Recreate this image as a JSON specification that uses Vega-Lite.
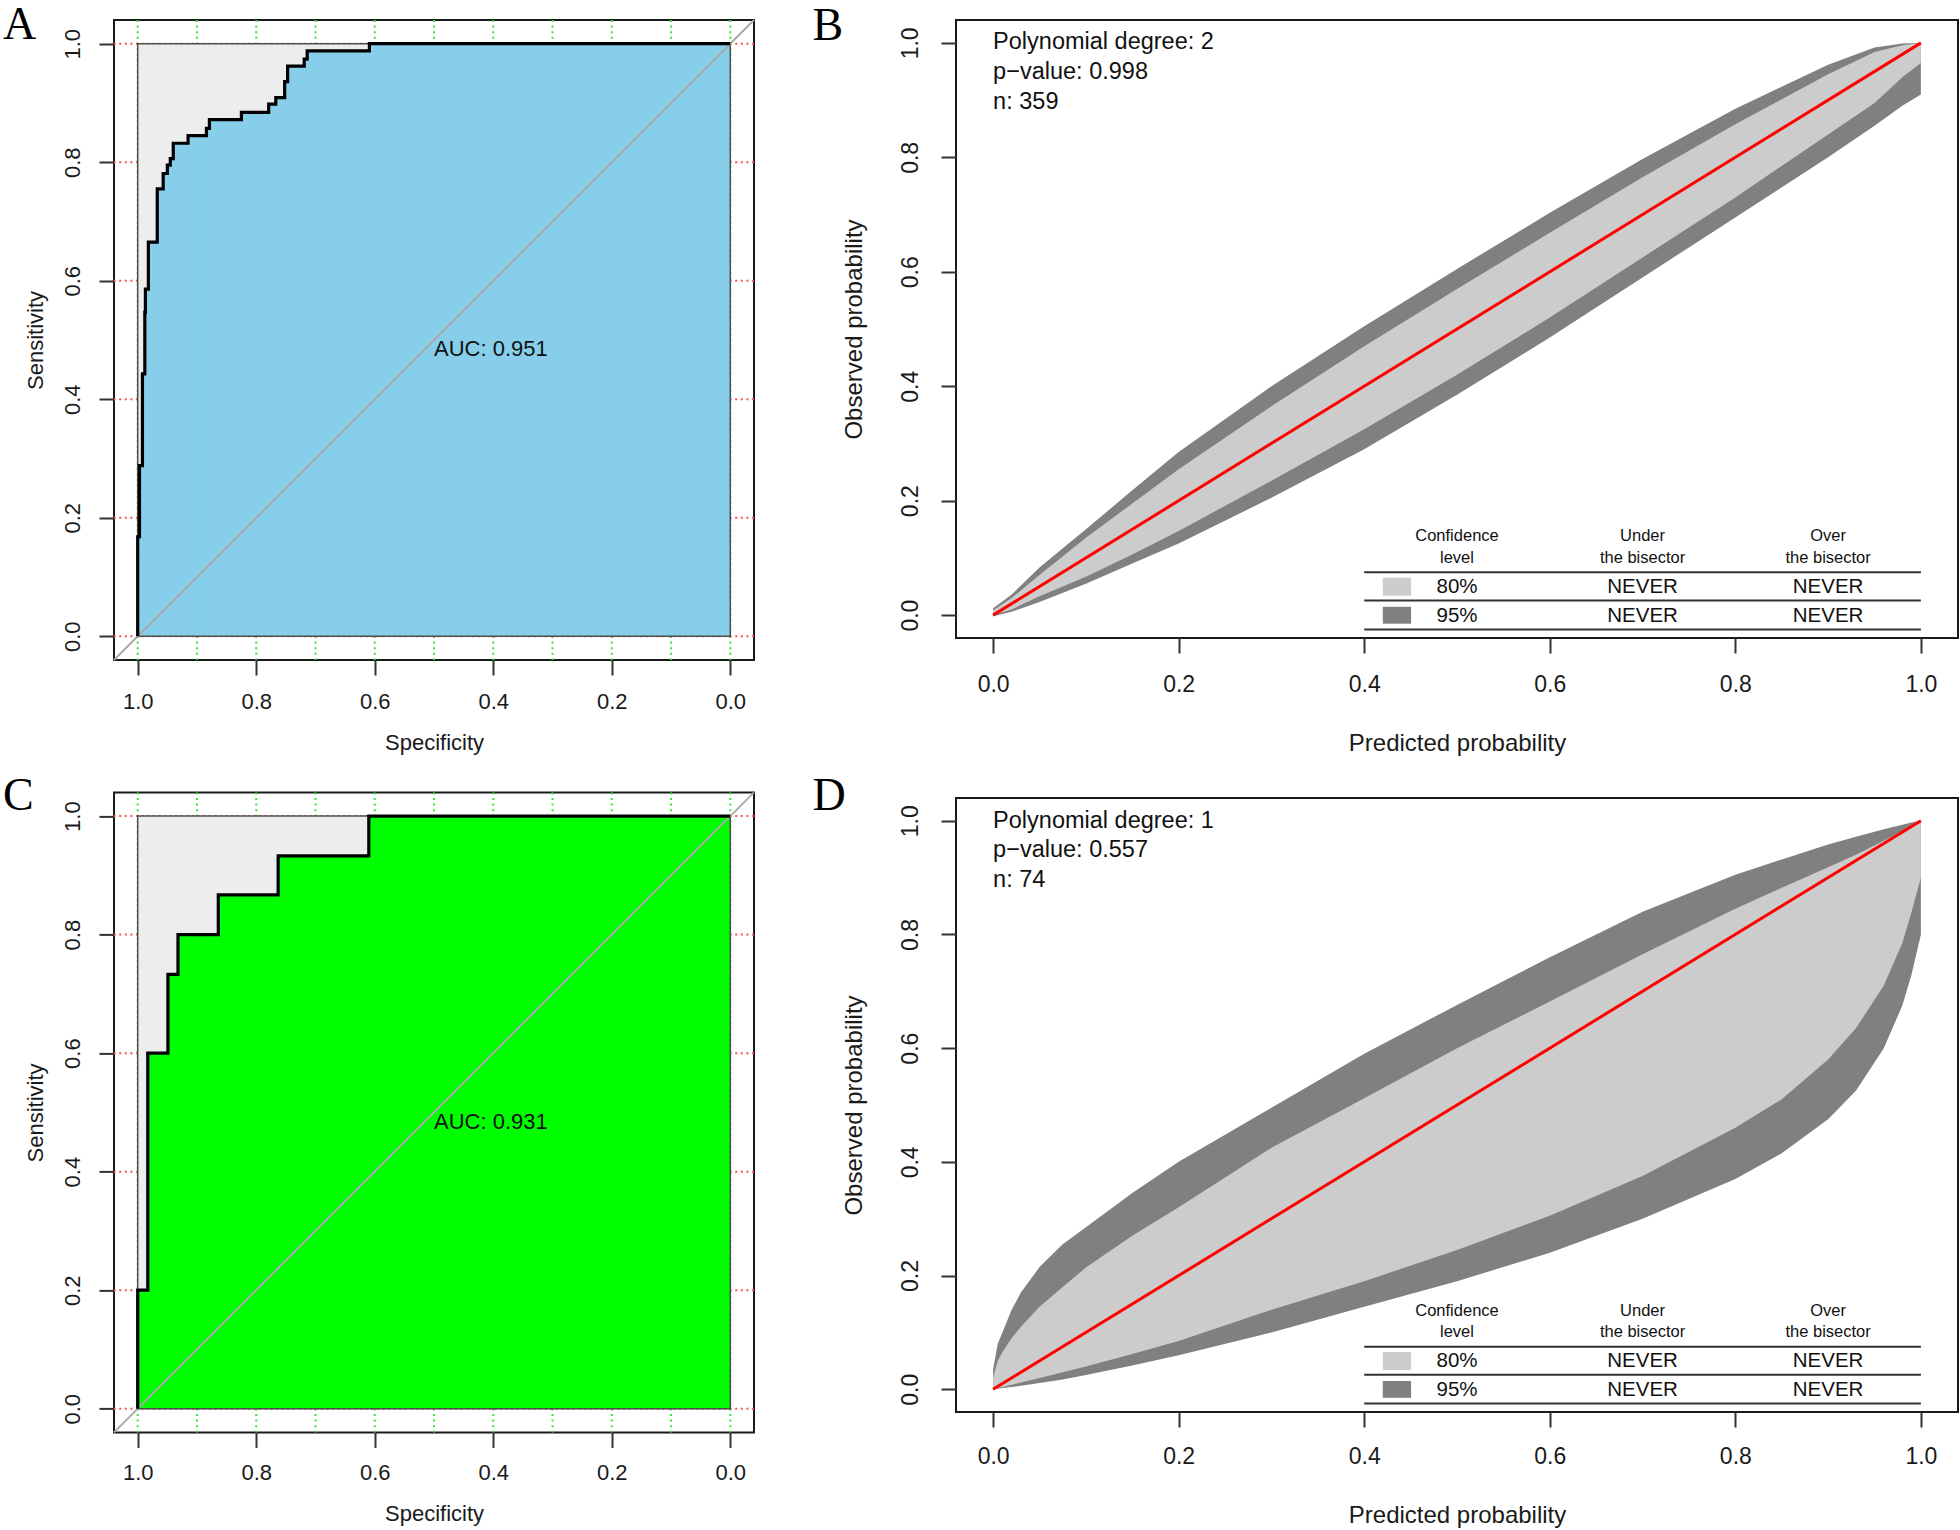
{
"$schema": "https://vega.github.io/schema/vega-lite/v6.json",
"background": "white",
"padding": {"left": 2, "top": 0, "right": 0, "bottom": 0},
"autosize": {"type": "pad"},
"bounds": "full",
"spacing": 55,
"config": {
  "font": "Liberation Sans",
  "view": {"stroke": "#1a1a1a", "strokeWidth": 2},
  "axis": {"grid": false, "domain": false, "tickColor": "#333333", "tickWidth": 2, "tickSize": 15, "labelColor": "#1a1a1a", "titleColor": "#1a1a1a", "titleFontWeight": "normal", "labelFlush": false, "labelOverlap": false, "labelBound": false}
},
"datasets": {
  "gridX": [{"x":0},{"x":0.1},{"x":0.2},{"x":0.3},{"x":0.4},{"x":0.5},{"x":0.6},{"x":0.7},{"x":0.8},{"x":0.9},{"x":1}],
  "gridY": [{"y":0},{"y":0.2},{"y":0.4},{"y":0.6},{"y":0.8},{"y":1}],
  "rocA": [
    {"i":1,"x":1.0,"y":0},{"i":2,"x":1.0,"y":0.168},{"i":3,"x":0.997,"y":0.168},{"i":4,"x":0.997,"y":0.288},
    {"i":5,"x":0.992,"y":0.288},{"i":6,"x":0.992,"y":0.443},{"i":7,"x":0.988,"y":0.443},{"i":8,"x":0.988,"y":0.547},
    {"i":9,"x":0.987,"y":0.547},{"i":10,"x":0.987,"y":0.586},{"i":11,"x":0.982,"y":0.586},{"i":12,"x":0.982,"y":0.665},
    {"i":13,"x":0.967,"y":0.665},{"i":14,"x":0.967,"y":0.755},{"i":15,"x":0.957,"y":0.755},{"i":16,"x":0.957,"y":0.781},
    {"i":17,"x":0.950,"y":0.781},{"i":18,"x":0.950,"y":0.795},{"i":19,"x":0.945,"y":0.795},{"i":20,"x":0.945,"y":0.806},
    {"i":21,"x":0.940,"y":0.806},{"i":22,"x":0.940,"y":0.832},{"i":23,"x":0.915,"y":0.832},{"i":24,"x":0.915,"y":0.845},
    {"i":25,"x":0.884,"y":0.845},{"i":26,"x":0.884,"y":0.857},{"i":27,"x":0.879,"y":0.857},{"i":28,"x":0.879,"y":0.872},
    {"i":29,"x":0.825,"y":0.872},{"i":30,"x":0.825,"y":0.884},{"i":31,"x":0.779,"y":0.884},{"i":32,"x":0.779,"y":0.898},
    {"i":33,"x":0.767,"y":0.898},{"i":34,"x":0.767,"y":0.909},{"i":35,"x":0.752,"y":0.909},{"i":36,"x":0.752,"y":0.936},
    {"i":37,"x":0.747,"y":0.936},{"i":38,"x":0.747,"y":0.962},{"i":39,"x":0.719,"y":0.962},{"i":40,"x":0.719,"y":0.974},
    {"i":41,"x":0.714,"y":0.974},{"i":42,"x":0.714,"y":0.988},{"i":43,"x":0.609,"y":0.988},{"i":44,"x":0.609,"y":1.0},
    {"i":45,"x":0.0,"y":1.0}
  ],
  "rocAseg": [
    {"x":1.0,"x2":0.997,"y":0.168},{"x":0.997,"x2":0.992,"y":0.288},{"x":0.992,"x2":0.988,"y":0.443},
    {"x":0.988,"x2":0.987,"y":0.547},{"x":0.987,"x2":0.982,"y":0.586},{"x":0.982,"x2":0.967,"y":0.665},
    {"x":0.967,"x2":0.957,"y":0.755},{"x":0.957,"x2":0.950,"y":0.781},{"x":0.950,"x2":0.945,"y":0.795},
    {"x":0.945,"x2":0.940,"y":0.806},{"x":0.940,"x2":0.915,"y":0.832},{"x":0.915,"x2":0.884,"y":0.845},
    {"x":0.884,"x2":0.879,"y":0.857},{"x":0.879,"x2":0.825,"y":0.872},{"x":0.825,"x2":0.779,"y":0.884},
    {"x":0.779,"x2":0.767,"y":0.898},{"x":0.767,"x2":0.752,"y":0.909},{"x":0.752,"x2":0.747,"y":0.936},
    {"x":0.747,"x2":0.719,"y":0.962},{"x":0.719,"x2":0.714,"y":0.974},{"x":0.714,"x2":0.609,"y":0.988},
    {"x":0.609,"x2":0.0,"y":1.0}
  ],
  "rocC": [
    {"i":1,"x":1.0,"y":0},{"i":2,"x":1.0,"y":0.2},{"i":3,"x":0.983,"y":0.2},{"i":4,"x":0.983,"y":0.6},
    {"i":5,"x":0.949,"y":0.6},{"i":6,"x":0.949,"y":0.733},{"i":7,"x":0.932,"y":0.733},{"i":8,"x":0.932,"y":0.8},
    {"i":9,"x":0.864,"y":0.8},{"i":10,"x":0.864,"y":0.867},{"i":11,"x":0.763,"y":0.867},{"i":12,"x":0.763,"y":0.933},
    {"i":13,"x":0.610,"y":0.933},{"i":14,"x":0.610,"y":1.0},{"i":15,"x":0.0,"y":1.0}
  ],
  "rocCseg": [
    {"x":1.0,"x2":0.983,"y":0.2},{"x":0.983,"x2":0.949,"y":0.6},{"x":0.949,"x2":0.932,"y":0.733},
    {"x":0.932,"x2":0.864,"y":0.8},{"x":0.864,"x2":0.763,"y":0.867},{"x":0.763,"x2":0.610,"y":0.933},
    {"x":0.610,"x2":0.0,"y":1.0}
  ],
  "calB": [
    {"x":0,"lo95":-0.002,"lo80":0.0,"hi80":0.008,"hi95":0.012},
    {"x":0.02,"lo95":0.006,"lo80":0.010,"hi80":0.030,"hi95":0.036},
    {"x":0.05,"lo95":0.023,"lo80":0.033,"hi80":0.070,"hi95":0.083},
    {"x":0.1,"lo95":0.055,"lo80":0.067,"hi80":0.135,"hi95":0.150},
    {"x":0.15,"lo95":0.090,"lo80":0.106,"hi80":0.195,"hi95":0.218},
    {"x":0.2,"lo95":0.125,"lo80":0.147,"hi80":0.255,"hi95":0.285},
    {"x":0.3,"lo95":0.205,"lo80":0.235,"hi80":0.365,"hi95":0.400},
    {"x":0.4,"lo95":0.290,"lo80":0.325,"hi80":0.470,"hi95":0.505},
    {"x":0.5,"lo95":0.385,"lo80":0.420,"hi80":0.570,"hi95":0.605},
    {"x":0.6,"lo95":0.485,"lo80":0.520,"hi80":0.668,"hi95":0.703},
    {"x":0.7,"lo95":0.590,"lo80":0.625,"hi80":0.765,"hi95":0.797},
    {"x":0.8,"lo95":0.695,"lo80":0.730,"hi80":0.858,"hi95":0.885},
    {"x":0.9,"lo95":0.800,"lo80":0.840,"hi80":0.945,"hi95":0.962},
    {"x":0.95,"lo95":0.855,"lo80":0.895,"hi80":0.984,"hi95":0.992},
    {"x":0.98,"lo95":0.890,"lo80":0.940,"hi80":0.996,"hi95":0.999},
    {"x":1.0,"lo95":0.910,"lo80":0.965,"hi80":1.0,"hi95":1.0}
  ],
  "calD": [
    {"x":0,"lo95":0,"lo80":0,"hi80":0.02,"hi95":0.035},
    {"x":0.005,"lo95":0.001,"lo80":0.002,"hi80":0.05,"hi95":0.08},
    {"x":0.01,"lo95":0.002,"lo80":0.004,"hi80":0.065,"hi95":0.10},
    {"x":0.02,"lo95":0.004,"lo80":0.008,"hi80":0.09,"hi95":0.14},
    {"x":0.03,"lo95":0.006,"lo80":0.012,"hi80":0.11,"hi95":0.17},
    {"x":0.05,"lo95":0.011,"lo80":0.02,"hi80":0.145,"hi95":0.215},
    {"x":0.075,"lo95":0.017,"lo80":0.03,"hi80":0.18,"hi95":0.255},
    {"x":0.1,"lo95":0.025,"lo80":0.04,"hi80":0.214,"hi95":0.285},
    {"x":0.15,"lo95":0.042,"lo80":0.062,"hi80":0.27,"hi95":0.345},
    {"x":0.2,"lo95":0.06,"lo80":0.085,"hi80":0.32,"hi95":0.40},
    {"x":0.3,"lo95":0.10,"lo80":0.14,"hi80":0.425,"hi95":0.495},
    {"x":0.4,"lo95":0.145,"lo80":0.19,"hi80":0.512,"hi95":0.59},
    {"x":0.5,"lo95":0.19,"lo80":0.245,"hi80":0.60,"hi95":0.676},
    {"x":0.6,"lo95":0.24,"lo80":0.305,"hi80":0.682,"hi95":0.76},
    {"x":0.7,"lo95":0.30,"lo80":0.375,"hi80":0.765,"hi95":0.84},
    {"x":0.8,"lo95":0.37,"lo80":0.46,"hi80":0.845,"hi95":0.905},
    {"x":0.85,"lo95":0.415,"lo80":0.51,"hi80":0.882,"hi95":0.932},
    {"x":0.9,"lo95":0.475,"lo80":0.58,"hi80":0.918,"hi95":0.958},
    {"x":0.93,"lo95":0.525,"lo80":0.635,"hi80":0.94,"hi95":0.972},
    {"x":0.96,"lo95":0.60,"lo80":0.71,"hi80":0.965,"hi95":0.985},
    {"x":0.98,"lo95":0.675,"lo80":0.785,"hi80":0.982,"hi95":0.993},
    {"x":0.99,"lo95":0.73,"lo80":0.84,"hi80":0.991,"hi95":0.997},
    {"x":1.0,"lo95":0.80,"lo80":0.90,"hi80":1.0,"hi95":1.0}
  ],
  "tabHead": [
    {"x":0.5,"y":0.1374,"t":"Confidence"},{"x":0.5,"y":0.1,"t":"level"},
    {"x":0.7,"y":0.1374,"t":"Under"},{"x":0.7,"y":0.1,"t":"the bisector"},
    {"x":0.9,"y":0.1374,"t":"Over"},{"x":0.9,"y":0.1,"t":"the bisector"}
  ],
  "tabText": [
    {"x":0.5,"y":0.049,"t":"80%"},{"x":0.7,"y":0.049,"t":"NEVER"},{"x":0.9,"y":0.049,"t":"NEVER"},
    {"x":0.5,"y":-0.0015,"t":"95%"},{"x":0.7,"y":-0.0015,"t":"NEVER"},{"x":0.9,"y":-0.0015,"t":"NEVER"}
  ],
  "tabRule": [
    {"x":0.4,"x2":1.0,"y":0.0747},{"x":0.4,"x2":1.0,"y":0.0257},{"x":0.4,"x2":1.0,"y":-0.0252}
  ],
  "tabSwatch": [
    {"x":0.42,"x2":0.4505,"y":0.034,"y2":0.0654,"lvl":"80%"},
    {"x":0.42,"x2":0.4505,"y":-0.015,"y2":0.0145,"lvl":"95%"}
  ]
},
"hconcat": [
 {"vconcat": [
  {"width": 640, "height": 640,
   "title": {"text": "A", "anchor": "start", "frame": "group", "orient": "top", "baseline": "alphabetic", "offset": -65.9, "dx": -111, "font": "Liberation Serif", "fontSize": 46, "fontWeight": "normal", "color": "#000000"},
   "layer": [
    {"data": {"name": "gridX"}, "mark": {"type": "rule", "color": "#33E633", "strokeWidth": 2, "strokeDash": [2, 3.6]},
     "encoding": {"x": {"field": "x", "type": "quantitative", "scale": {"domain": [-0.04, 1.04], "reverse": true, "nice": false, "zero": false},
       "axis": {"title": "Specificity", "values": [0,0.2,0.4,0.6,0.8,1], "format": ".1f", "labelFontSize": 22, "labelPadding": 26, "labelBaseline": "middle", "labelAlign": "center", "labelAngle": 0, "titleFontSize": 22, "titleX": 320, "titleY": 82, "titleAlign": "center", "titleBaseline": "middle", "titleAngle": 0}}}},
    {"data": {"name": "gridY"}, "mark": {"type": "rule", "color": "#FF5050", "strokeWidth": 2, "strokeDash": [2, 3.6]},
     "encoding": {"y": {"field": "y", "type": "quantitative", "scale": {"domain": [-0.04, 1.04], "nice": false, "zero": false},
       "axis": {"title": "Sensitivity", "values": [0,0.2,0.4,0.6,0.8,1], "format": ".1f", "labelFontSize": 22, "labelAngle": 270, "labelAlign": "center", "labelBaseline": "middle", "labelPadding": 27, "titleFontSize": 22, "titleX": -79, "titleY": 320, "titleAngle": 270, "titleAlign": "center", "titleBaseline": "middle"}}}},
    {"data": {"values": [{}]}, "mark": {"type": "rect", "color": "#EDEDED"},
     "encoding": {"x": {"datum": 1, "scale": {"domain": [-0.04, 1.04], "reverse": true, "nice": false, "zero": false}}, "x2": {"datum": 0},
       "y": {"datum": 0, "scale": {"domain": [-0.04, 1.04], "nice": false, "zero": false}}, "y2": {"datum": 1}}},
    {"data": {"name": "rocAseg"}, "mark": {"type": "rect", "color": "#87CEEB", "stroke": "#87CEEB", "strokeWidth": 0.8},
     "encoding": {"x": {"field": "x", "type": "quantitative", "scale": {"domain": [-0.04, 1.04], "reverse": true, "nice": false, "zero": false}}, "x2": {"field": "x2"},
       "y": {"field": "y", "type": "quantitative", "scale": {"domain": [-0.04, 1.04], "nice": false, "zero": false}}, "y2": {"datum": 0}}},
    {"data": {"values": [{}]}, "mark": {"type": "rect", "filled": false, "color": "#4d4d4d", "strokeWidth": 1.5},
     "encoding": {"x": {"datum": 1, "scale": {"domain": [-0.04, 1.04], "reverse": true, "nice": false, "zero": false}}, "x2": {"datum": 0},
       "y": {"datum": 0, "scale": {"domain": [-0.04, 1.04], "nice": false, "zero": false}}, "y2": {"datum": 1}}},
    {"data": {"values": [{}]}, "mark": {"type": "rule", "color": "#AAAAAA", "strokeWidth": 2},
     "encoding": {"x": {"datum": 1.04, "scale": {"domain": [-0.04, 1.04], "reverse": true, "nice": false, "zero": false}}, "x2": {"datum": -0.04},
       "y": {"datum": -0.04, "scale": {"domain": [-0.04, 1.04], "nice": false, "zero": false}}, "y2": {"datum": 1.04}}},
    {"data": {"name": "rocA"}, "mark": {"type": "line", "color": "#000000", "strokeWidth": 3.2},
     "encoding": {"x": {"field": "x", "type": "quantitative", "scale": {"domain": [-0.04, 1.04], "reverse": true, "nice": false, "zero": false}},
       "y": {"field": "y", "type": "quantitative", "scale": {"domain": [-0.04, 1.04], "nice": false, "zero": false}}, "order": {"field": "i", "type": "quantitative"}}},
    {"data": {"values": [{}]}, "mark": {"type": "text", "align": "left", "baseline": "middle", "fontSize": 22, "color": "#111111"},
     "encoding": {"x": {"datum": 0.5, "scale": {"domain": [-0.04, 1.04], "reverse": true, "nice": false, "zero": false}},
       "y": {"datum": 0.484, "scale": {"domain": [-0.04, 1.04], "nice": false, "zero": false}}, "text": {"value": "AUC: 0.951"}}}
   ]},
  {"width": 640, "height": 640,
   "title": {"text": "C", "anchor": "start", "frame": "group", "orient": "top", "baseline": "alphabetic", "offset": -64.5, "dx": -111, "font": "Liberation Serif", "fontSize": 46, "fontWeight": "normal", "color": "#000000"},
   "layer": [
    {"data": {"name": "gridX"}, "mark": {"type": "rule", "color": "#33E633", "strokeWidth": 2, "strokeDash": [2, 3.6]},
     "encoding": {"x": {"field": "x", "type": "quantitative", "scale": {"domain": [-0.04, 1.04], "reverse": true, "nice": false, "zero": false},
       "axis": {"title": "Specificity", "values": [0,0.2,0.4,0.6,0.8,1], "format": ".1f", "labelFontSize": 22, "labelPadding": 25, "labelBaseline": "middle", "labelAlign": "center", "labelAngle": 0, "titleFontSize": 22, "titleX": 320, "titleY": 81, "titleAlign": "center", "titleBaseline": "middle", "titleAngle": 0}}}},
    {"data": {"name": "gridY"}, "mark": {"type": "rule", "color": "#FF5050", "strokeWidth": 2, "strokeDash": [2, 3.6]},
     "encoding": {"y": {"field": "y", "type": "quantitative", "scale": {"domain": [-0.04, 1.04], "nice": false, "zero": false},
       "axis": {"title": "Sensitivity", "values": [0,0.2,0.4,0.6,0.8,1], "format": ".1f", "labelFontSize": 22, "labelAngle": 270, "labelAlign": "center", "labelBaseline": "middle", "labelPadding": 27, "titleFontSize": 22, "titleX": -79, "titleY": 320, "titleAngle": 270, "titleAlign": "center", "titleBaseline": "middle"}}}},
    {"data": {"values": [{}]}, "mark": {"type": "rect", "color": "#EDEDED"},
     "encoding": {"x": {"datum": 1, "scale": {"domain": [-0.04, 1.04], "reverse": true, "nice": false, "zero": false}}, "x2": {"datum": 0},
       "y": {"datum": 0, "scale": {"domain": [-0.04, 1.04], "nice": false, "zero": false}}, "y2": {"datum": 1}}},
    {"data": {"name": "rocCseg"}, "mark": {"type": "rect", "color": "#00FF00", "stroke": "#00FF00", "strokeWidth": 0.8},
     "encoding": {"x": {"field": "x", "type": "quantitative", "scale": {"domain": [-0.04, 1.04], "reverse": true, "nice": false, "zero": false}}, "x2": {"field": "x2"},
       "y": {"field": "y", "type": "quantitative", "scale": {"domain": [-0.04, 1.04], "nice": false, "zero": false}}, "y2": {"datum": 0}}},
    {"data": {"values": [{}]}, "mark": {"type": "rect", "filled": false, "color": "#4d4d4d", "strokeWidth": 1.5},
     "encoding": {"x": {"datum": 1, "scale": {"domain": [-0.04, 1.04], "reverse": true, "nice": false, "zero": false}}, "x2": {"datum": 0},
       "y": {"datum": 0, "scale": {"domain": [-0.04, 1.04], "nice": false, "zero": false}}, "y2": {"datum": 1}}},
    {"data": {"values": [{}]}, "mark": {"type": "rule", "color": "#AAAAAA", "strokeWidth": 2},
     "encoding": {"x": {"datum": 1.04, "scale": {"domain": [-0.04, 1.04], "reverse": true, "nice": false, "zero": false}}, "x2": {"datum": -0.04},
       "y": {"datum": -0.04, "scale": {"domain": [-0.04, 1.04], "nice": false, "zero": false}}, "y2": {"datum": 1.04}}},
    {"data": {"name": "rocC"}, "mark": {"type": "line", "color": "#000000", "strokeWidth": 3.2},
     "encoding": {"x": {"field": "x", "type": "quantitative", "scale": {"domain": [-0.04, 1.04], "reverse": true, "nice": false, "zero": false}},
       "y": {"field": "y", "type": "quantitative", "scale": {"domain": [-0.04, 1.04], "nice": false, "zero": false}}, "order": {"field": "i", "type": "quantitative"}}},
    {"data": {"values": [{}]}, "mark": {"type": "text", "align": "left", "baseline": "middle", "fontSize": 22, "color": "#111111"},
     "encoding": {"x": {"datum": 0.5, "scale": {"domain": [-0.04, 1.04], "reverse": true, "nice": false, "zero": false}},
       "y": {"datum": 0.484, "scale": {"domain": [-0.04, 1.04], "nice": false, "zero": false}}, "text": {"value": "AUC: 0.931"}}}
   ]}
 ], "spacing": 132.4, "bounds": "flush"},
 {"vconcat": [
  {"width": 1002, "height": 618,
   "title": {"text": "B", "anchor": "start", "frame": "group", "orient": "top", "baseline": "alphabetic", "offset": -66.4, "dx": -143.5, "font": "Liberation Serif", "fontSize": 46, "fontWeight": "normal", "color": "#000000"},
   "layer": [
    {"data": {"name": "calB"}, "mark": {"type": "area", "color": "#808080"},
     "encoding": {"x": {"field": "x", "type": "quantitative", "scale": {"domain": [-0.04, 1.04], "nice": false, "zero": false},
        "axis": {"title": "Predicted probability", "values": [0,0.2,0.4,0.6,0.8,1], "format": ".1f", "labelFontSize": 23, "labelPadding": 31, "labelBaseline": "middle", "labelAlign": "center", "labelAngle": 0, "titleFontSize": 24, "titleX": 501, "titleY": 105, "titleAlign": "center", "titleBaseline": "middle", "titleAngle": 0}},
       "y": {"field": "hi95", "type": "quantitative", "scale": {"domain": [-0.04, 1.04], "nice": false, "zero": false},
        "axis": {"title": "Observed probability", "values": [0,0.2,0.4,0.6,0.8,1], "format": ".1f", "labelFontSize": 23, "labelAngle": 270, "labelAlign": "center", "labelBaseline": "middle", "labelPadding": 31, "titleFontSize": 24, "titleX": -102, "titleY": 309, "titleAngle": 270, "titleAlign": "center", "titleBaseline": "middle"}},
       "y2": {"field": "lo95"}}},
    {"data": {"name": "calB"}, "mark": {"type": "area", "color": "#CCCCCC"},
     "encoding": {"x": {"field": "x", "type": "quantitative", "scale": {"domain": [-0.04, 1.04], "nice": false, "zero": false}},
       "y": {"field": "hi80", "type": "quantitative", "scale": {"domain": [-0.04, 1.04], "nice": false, "zero": false}}, "y2": {"field": "lo80"}}},
    {"data": {"values": [{}]}, "mark": {"type": "rule", "color": "#FF0000", "strokeWidth": 3},
     "encoding": {"x": {"datum": 0, "scale": {"domain": [-0.04, 1.04], "nice": false, "zero": false}}, "x2": {"datum": 1},
       "y": {"datum": 0, "scale": {"domain": [-0.04, 1.04], "nice": false, "zero": false}}, "y2": {"datum": 1}}},
    {"data": {"values": [{}]}, "mark": {"type": "text", "align": "left", "baseline": "alphabetic", "fontSize": 23.5, "lineHeight": 30, "color": "#111111"},
     "encoding": {"x": {"datum": 0, "scale": {"domain": [-0.04, 1.04], "nice": false, "zero": false}},
       "y": {"datum": 0.99, "scale": {"domain": [-0.04, 1.04], "nice": false, "zero": false}},
       "text": {"value": ["Polynomial degree: 2", "p−value: 0.998", "n: 359"]}}},
    {"data": {"name": "tabRule"}, "mark": {"type": "rule", "color": "#333333", "strokeWidth": 2},
     "encoding": {"x": {"field": "x", "type": "quantitative", "scale": {"domain": [-0.04, 1.04], "nice": false, "zero": false}}, "x2": {"field": "x2"},
       "y": {"field": "y", "type": "quantitative", "scale": {"domain": [-0.04, 1.04], "nice": false, "zero": false}}}},
    {"data": {"name": "tabSwatch"}, "mark": {"type": "rect"},
     "encoding": {"x": {"field": "x", "type": "quantitative", "scale": {"domain": [-0.04, 1.04], "nice": false, "zero": false}}, "x2": {"field": "x2"},
       "y": {"field": "y", "type": "quantitative", "scale": {"domain": [-0.04, 1.04], "nice": false, "zero": false}}, "y2": {"field": "y2"},
       "color": {"field": "lvl", "type": "nominal", "scale": {"domain": ["80%", "95%"], "range": ["#CCCCCC", "#808080"]}, "legend": null}}},
    {"data": {"name": "tabHead"}, "mark": {"type": "text", "align": "center", "baseline": "middle", "fontSize": 16.5, "color": "#111111"},
     "encoding": {"x": {"field": "x", "type": "quantitative", "scale": {"domain": [-0.04, 1.04], "nice": false, "zero": false}},
       "y": {"field": "y", "type": "quantitative", "scale": {"domain": [-0.04, 1.04], "nice": false, "zero": false}}, "text": {"field": "t"}}},
    {"data": {"name": "tabText"}, "mark": {"type": "text", "align": "center", "baseline": "middle", "fontSize": 20.5, "color": "#111111"},
     "encoding": {"x": {"field": "x", "type": "quantitative", "scale": {"domain": [-0.04, 1.04], "nice": false, "zero": false}},
       "y": {"field": "y", "type": "quantitative", "scale": {"domain": [-0.04, 1.04], "nice": false, "zero": false}}, "text": {"field": "t"}}}
   ]},
  {"width": 1002, "height": 614,
   "title": {"text": "D", "anchor": "start", "frame": "group", "orient": "top", "baseline": "alphabetic", "offset": -57.8, "dx": -143.5, "font": "Liberation Serif", "fontSize": 46, "fontWeight": "normal", "color": "#000000"},
   "layer": [
    {"data": {"name": "calD"}, "mark": {"type": "area", "color": "#808080"},
     "encoding": {"x": {"field": "x", "type": "quantitative", "scale": {"domain": [-0.04, 1.04], "nice": false, "zero": false},
        "axis": {"title": "Predicted probability", "values": [0,0.2,0.4,0.6,0.8,1], "format": ".1f", "labelFontSize": 23, "labelPadding": 29, "labelBaseline": "middle", "labelAlign": "center", "labelAngle": 0, "titleFontSize": 24, "titleX": 501, "titleY": 103, "titleAlign": "center", "titleBaseline": "middle", "titleAngle": 0}},
       "y": {"field": "hi95", "type": "quantitative", "scale": {"domain": [-0.04, 1.04], "nice": false, "zero": false},
        "axis": {"title": "Observed probability", "values": [0,0.2,0.4,0.6,0.8,1], "format": ".1f", "labelFontSize": 23, "labelAngle": 270, "labelAlign": "center", "labelBaseline": "middle", "labelPadding": 31, "titleFontSize": 24, "titleX": -102, "titleY": 307, "titleAngle": 270, "titleAlign": "center", "titleBaseline": "middle"}},
       "y2": {"field": "lo95"}}},
    {"data": {"name": "calD"}, "mark": {"type": "area", "color": "#CCCCCC"},
     "encoding": {"x": {"field": "x", "type": "quantitative", "scale": {"domain": [-0.04, 1.04], "nice": false, "zero": false}},
       "y": {"field": "hi80", "type": "quantitative", "scale": {"domain": [-0.04, 1.04], "nice": false, "zero": false}}, "y2": {"field": "lo80"}}},
    {"data": {"values": [{}]}, "mark": {"type": "rule", "color": "#FF0000", "strokeWidth": 3},
     "encoding": {"x": {"datum": 0, "scale": {"domain": [-0.04, 1.04], "nice": false, "zero": false}}, "x2": {"datum": 1},
       "y": {"datum": 0, "scale": {"domain": [-0.04, 1.04], "nice": false, "zero": false}}, "y2": {"datum": 1}}},
    {"data": {"values": [{}]}, "mark": {"type": "text", "align": "left", "baseline": "alphabetic", "fontSize": 23.5, "lineHeight": 29.5, "color": "#111111"},
     "encoding": {"x": {"datum": 0, "scale": {"domain": [-0.04, 1.04], "nice": false, "zero": false}},
       "y": {"datum": 0.988, "scale": {"domain": [-0.04, 1.04], "nice": false, "zero": false}},
       "text": {"value": ["Polynomial degree: 1", "p−value: 0.557", "n: 74"]}}},
    {"data": {"name": "tabRule"}, "mark": {"type": "rule", "color": "#333333", "strokeWidth": 2},
     "encoding": {"x": {"field": "x", "type": "quantitative", "scale": {"domain": [-0.04, 1.04], "nice": false, "zero": false}}, "x2": {"field": "x2"},
       "y": {"field": "y", "type": "quantitative", "scale": {"domain": [-0.04, 1.04], "nice": false, "zero": false}}}},
    {"data": {"name": "tabSwatch"}, "mark": {"type": "rect"},
     "encoding": {"x": {"field": "x", "type": "quantitative", "scale": {"domain": [-0.04, 1.04], "nice": false, "zero": false}}, "x2": {"field": "x2"},
       "y": {"field": "y", "type": "quantitative", "scale": {"domain": [-0.04, 1.04], "nice": false, "zero": false}}, "y2": {"field": "y2"},
       "color": {"field": "lvl", "type": "nominal", "scale": {"domain": ["80%", "95%"], "range": ["#CCCCCC", "#808080"]}, "legend": null}}},
    {"data": {"name": "tabHead"}, "mark": {"type": "text", "align": "center", "baseline": "middle", "fontSize": 16.5, "color": "#111111"},
     "encoding": {"x": {"field": "x", "type": "quantitative", "scale": {"domain": [-0.04, 1.04], "nice": false, "zero": false}},
       "y": {"field": "y", "type": "quantitative", "scale": {"domain": [-0.04, 1.04], "nice": false, "zero": false}}, "text": {"field": "t"}}},
    {"data": {"name": "tabText"}, "mark": {"type": "text", "align": "center", "baseline": "middle", "fontSize": 20.5, "color": "#111111"},
     "encoding": {"x": {"field": "x", "type": "quantitative", "scale": {"domain": [-0.04, 1.04], "nice": false, "zero": false}},
       "y": {"field": "y", "type": "quantitative", "scale": {"domain": [-0.04, 1.04], "nice": false, "zero": false}}, "text": {"field": "t"}}}
   ]}
 ], "spacing": 160, "bounds": "flush"}
]
}
